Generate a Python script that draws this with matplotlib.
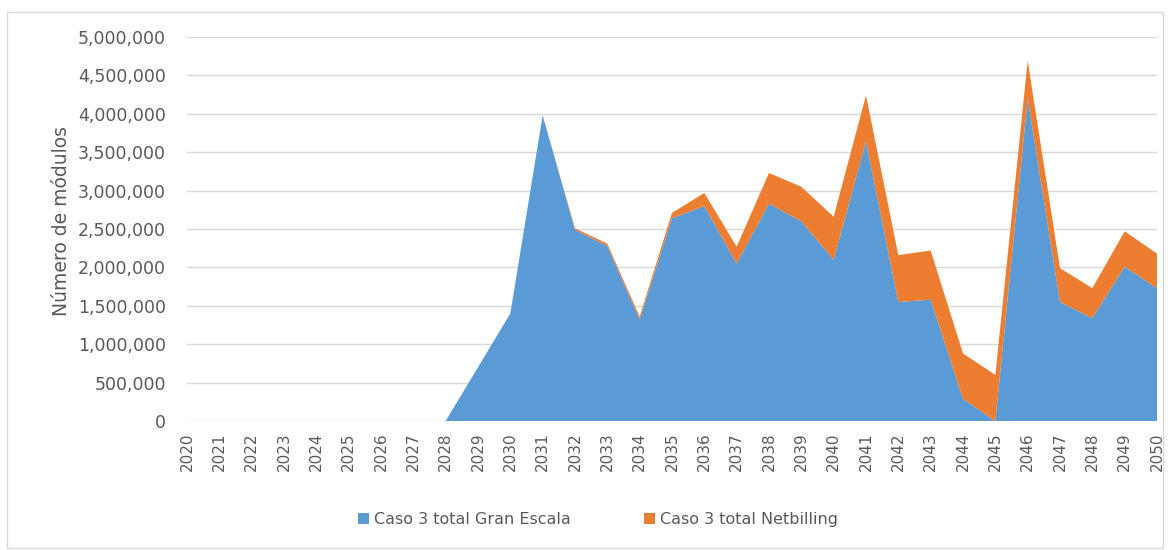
import matplotlib.pyplot as plt
import matplotlib.ticker as mticker
from matplotlib.patches import Rectangle

# Años y número de módulos por escenario (Caso 3)
years = list(range(2020, 2051))
gran_escala = [0, 0, 0, 0, 0, 0, 0, 0, 0,
               700000, 1400000, 3980000, 2490000, 2280000, 1320000,
               2640000, 2800000, 2050000, 2830000, 2600000, 2100000,
               3640000, 1550000, 1580000, 290000, 0,
               4200000, 1550000, 1340000, 2010000, 1730000]
netbilling = [0, 0, 0, 0, 0, 0, 0, 0, 0,
              0, 0, 0, 20000, 30000, 40000,
              70000, 170000, 220000, 400000, 450000, 560000,
              600000, 610000, 640000, 590000, 600000,
              490000, 440000, 390000, 460000, 450000]

labels = ["Caso 3 total Gran Escala", "Caso 3 total Netbilling"]
colors = ["#5B9BD5", "#ED7D31"]
text_gray = "#595959"

fig = plt.figure(figsize=(11.7, 5.5), dpi=100)
fig.patches.append(Rectangle((0.006, 0.004), 0.988, 0.974, transform=fig.transFigure,
                             fill=False, edgecolor="#D9D9D9", linewidth=1))

ax = fig.add_axes([0.1598, 0.2345, 0.8291, 0.6982])
ax.stackplot(years, gran_escala, netbilling, colors=colors, labels=labels,
             linewidth=0, zorder=2)

ax.set_xlim(2020, 2050)
ax.set_ylim(0, 5000000)
ax.set_xticks(years)
ax.set_xticklabels([str(y) for y in years], rotation=90, fontsize=11, color=text_gray)
ax.yaxis.set_major_locator(mticker.MultipleLocator(500000))
ax.yaxis.set_major_formatter(mticker.FuncFormatter(lambda v, p: f"{v:,.0f}"))
for lbl in ax.get_yticklabels():
    lbl.set_fontsize(12.5)
    lbl.set_color(text_gray)

ax.tick_params(axis="y", length=0, pad=15)
ax.tick_params(axis="x", length=0, pad=8)
ax.grid(axis="y", color="#D9D9D9", linewidth=1, zorder=1)
ax.set_axisbelow(True)
for side in ["top", "right", "left", "bottom"]:
    ax.spines[side].set_visible(False)

ax.set_ylabel("Número de módulos", fontsize=13.5, color=text_gray)
ax.yaxis.set_label_coords(-0.12, 0.52)

fig.legend(loc="center", bbox_to_anchor=(0.511, 0.055), ncol=2, frameon=False,
           fontsize=11.5, labelcolor=text_gray, handlelength=0.7, handleheight=0.7,
           handletextpad=0.3, columnspacing=4.6)

fig.savefig("out.png", dpi=100)
